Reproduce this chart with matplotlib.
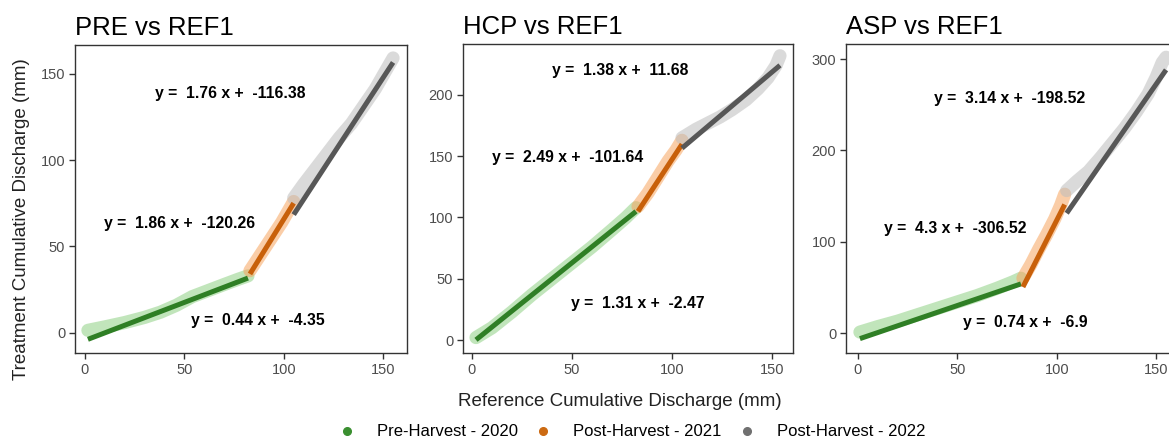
import matplotlib
matplotlib.use("Agg")
import matplotlib.pyplot as plt
from matplotlib.lines import Line2D
import numpy as np

plt.rcParams['font.family'] = ['Liberation Sans', 'DejaVu Sans']

# ---------------- data ----------------
titles = ["PRE vs REF1", "HCP vs REF1", "ASP vs REF1"]
series_labels = ["Pre-Harvest - 2020", "Post-Harvest - 2021", "Post-Harvest - 2022"]

# PRE vs REF1
pre_x_2020 = [1.5, 10, 20, 30, 38, 46, 54, 62, 70, 77, 82]
pre_y_2020 = [1.5, 3.5, 6, 9, 12, 16, 21, 24.5, 28, 31, 33]
pre_x_2021 = [83, 87, 91, 95, 99, 102, 105]
pre_y_2021 = [36, 43, 50, 57, 64, 70, 76]
pre_x_2022 = [105, 110, 116, 122, 128, 134, 140, 146, 150, 153, 155]
pre_y_2022 = [78, 86, 95, 104, 113, 121, 131, 141, 149, 155, 159]

# HCP vs REF1
hcp_x_2020 = [2, 10, 20, 30, 40, 50, 60, 70, 77, 82]
hcp_y_2020 = [2, 10, 23, 37, 50, 63, 76, 90, 100, 108]
hcp_x_2021 = [83, 88, 93, 98, 102, 105]
hcp_y_2021 = [109, 120, 133, 146, 155, 163]
hcp_x_2022 = [105, 112, 118, 124, 130, 137, 143, 148, 152, 154]
hcp_y_2022 = [165, 172, 177, 182, 188, 196, 205, 214, 224, 232]

# ASP vs REF1
asp_x_2020 = [1, 10, 20, 30, 40, 50, 60, 70, 78, 82]
asp_y_2020 = [1, 7, 13, 20, 27, 34, 41, 49, 56, 60]
asp_x_2021 = [83, 87, 91, 95, 99, 102, 104]
asp_y_2021 = [60, 75, 92, 108, 125, 140, 152]
asp_x_2022 = [105, 110, 116, 122, 128, 134, 140, 146, 150, 153, 155]
asp_y_2022 = [156, 166, 177, 192, 208, 224, 242, 262, 280, 296, 302]

# regression coefficients shown in the annotations
pre_slopes = [0.44, 1.86, 1.76]
pre_intercepts = [-4.35, -120.26, -116.38]
hcp_slopes = [1.31, 2.49, 1.38]
hcp_intercepts = [-2.47, -101.64, 11.68]
asp_slopes = [0.74, 4.3, 3.14]
asp_intercepts = [-6.9, -306.52, -198.52]
pre_coef_text = ["0.44", "1.86", "1.76"]
pre_int_text = ["-4.35", "-120.26", "-116.38"]
hcp_coef_text = ["1.31", "2.49", "1.38"]
hcp_int_text = ["-2.47", "-101.64", "11.68"]
asp_coef_text = ["0.74", "4.3", "3.14"]
asp_int_text = ["-6.9", "-306.52", "-198.52"]

# ---------------- styling ----------------
dark_cols = ["#2f7f25", "#c8600a", "#575757"]
light_cols = ["#8fd184", "#f7a55f", "#bdbdbd"]
legend_cols = ["#3a8f30", "#cc6a12", "#707070"]

panels = [
    dict(xs=[pre_x_2020, pre_x_2021, pre_x_2022], ys=[pre_y_2020, pre_y_2021, pre_y_2022],
         sl=pre_slopes, ic=pre_intercepts, ct=pre_coef_text, it=pre_int_text,
         rect=[75/1169, 1-353/441, 332/1169, 308/441], xlim=(-5.0, 162.0), ylim=(-11.6, 166.5),
         yticks=[0, 50, 100, 150],
         txtpos=[(87, 7), (47.8, 63), (73, 138.7)]),
    dict(xs=[hcp_x_2020, hcp_x_2021, hcp_x_2022], ys=[hcp_y_2020, hcp_y_2021, hcp_y_2022],
         sl=hcp_slopes, ic=hcp_intercepts, ct=hcp_coef_text, it=hcp_int_text,
         rect=[463/1169, 1-353/441, 330/1169, 309/441], xlim=(-4.5, 160.5), ylim=(-10.6, 241.6),
         yticks=[0, 50, 100, 150, 200],
         txtpos=[(83, 30), (48, 149), (74, 220)]),
    dict(xs=[asp_x_2020, asp_x_2021, asp_x_2022], ys=[asp_y_2020, asp_y_2021, asp_y_2022],
         sl=asp_slopes, ic=asp_intercepts, ct=asp_coef_text, it=asp_int_text,
         rect=[846/1169, 1-353/441, 332/1169, 309/441], xlim=(-6.0, 161.0), ylim=(-21.9, 316.5),
         yticks=[0, 100, 200, 300],
         txtpos=[(84, 11), (49, 114), (76.5, 257)]),
]

fig = plt.figure(figsize=(11.69, 4.41), dpi=100)

for p, title in zip(panels, titles):
    ax = fig.add_axes(p["rect"])
    for i in range(3):
        x = np.array(p["xs"][i], dtype=float)
        y = np.array(p["ys"][i], dtype=float)
        ax.plot(x, y, color=light_cols[i], lw=9.5, alpha=0.55, solid_capstyle='round',
                solid_joinstyle='round', zorder=2)
    for i in range(3):
        x = np.array(p["xs"][i], dtype=float)
        xl = np.array([x.min(), x.max()])
        ax.plot(xl, p["sl"][i] * xl + p["ic"][i], color=dark_cols[i], lw=3.6,
                solid_capstyle='butt', zorder=3)
    for i in range(3):
        tx, ty = p["txtpos"][i]
        ax.text(tx, ty, f"y =  {p['ct'][i]} x +  {p['it'][i]}", ha='center', va='center',
                fontsize=11.3, fontweight='bold', color='black', zorder=4)
    ax.set_xlim(*p["xlim"])
    ax.set_ylim(*p["ylim"])
    ax.set_xticks([0, 50, 100, 150])
    ax.set_yticks(p["yticks"])
    ax.tick_params(axis='both', direction='out', length=4, width=1, color='#333333',
                   labelsize=10.5, labelcolor='#4d4d4d', pad=3)
    for s in ax.spines.values():
        s.set_color('#333333')
        s.set_linewidth(1.0)
    ax.set_title(title, loc='left', fontsize=18.5, pad=7, color='black')

fig.text(0.53, 1 - 402/441, "Reference Cumulative Discharge (mm)", ha='center', va='center',
         fontsize=13.5, color='#222222')
fig.text(0.018, 1 - 219/441, "Treatment Cumulative Discharge (mm)", ha='center', va='center',
         rotation=90, fontsize=13.5, color='#222222')

handles = [Line2D([0], [0], marker='o', linestyle='none', markersize=5.5,
                  markerfacecolor=c, markeredgecolor=c) for c in legend_cols]
fig.legend(handles, series_labels, loc='center', bbox_to_anchor=(0.54, 1 - 432/441),
           ncol=3, frameon=False, fontsize=12, handletextpad=1.2, columnspacing=0.9,
           handlelength=1.2)

fig.savefig("out.png", dpi=100)
